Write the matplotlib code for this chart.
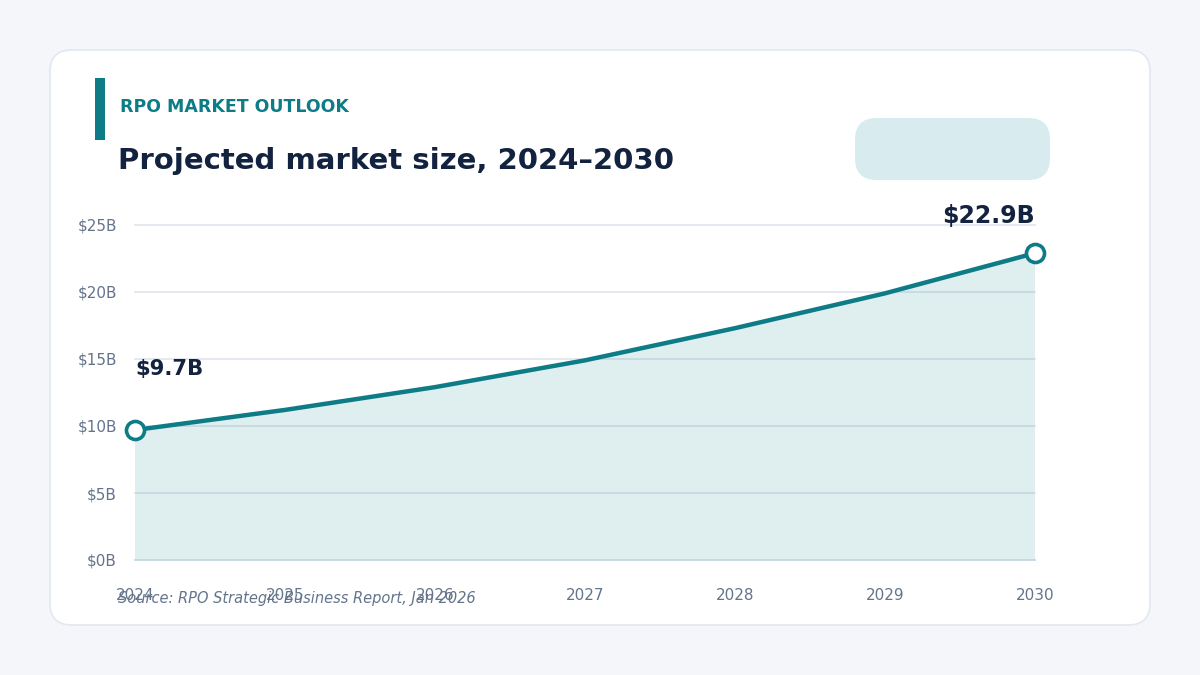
import matplotlib.pyplot as plt
from matplotlib.patches import FancyBboxPatch, Rectangle

# data
years = [2024, 2025, 2026, 2027, 2028, 2029, 2030]
market_size = [9.7, 11.2, 12.9, 14.9, 17.3, 19.9, 22.9]
y_ticks = [0, 5, 10, 15, 20, 25]
y_labels = ["$0B", "$5B", "$10B", "$15B", "$20B", "$25B"]

teal = "#0e7c86"
navy = "#13233f"
muted = "#64748b"
grid_c = "#dfe5ee"

fig = plt.figure(figsize=(12, 6.75), dpi=100)
fig.patch.set_facecolor("#f4f6f9")

W, H = 1200, 675
def fx(px):
    return px / W
def fy(py):
    return 1 - py / H

# card
card = FancyBboxPatch((fx(50), fy(625)), fx(1100), 575 / H,
                      boxstyle="round,pad=0,rounding_size=0.018",
                      transform=fig.transFigure, facecolor="white",
                      edgecolor="#e2e8f0", linewidth=1.2, mutation_aspect=16/9,
                      zorder=-2)
fig.patches.append(card)

# accent bar
fig.patches.append(Rectangle((fx(95), fy(140)), fx(10), 62 / H,
                             transform=fig.transFigure, facecolor=teal,
                             edgecolor="none", zorder=-1))

fig.text(fx(120), fy(107), "RPO MARKET OUTLOOK", color=teal, fontsize=12.5,
         fontweight="bold", va="center", ha="left")
fig.text(fx(118), fy(161), "Projected market size, 2024\u20132030", color=navy,
         fontsize=21, fontweight="bold", va="center", ha="left")

# empty pill
pill = FancyBboxPatch((fx(855), fy(180)), fx(195), 62 / H,
                      boxstyle="round,pad=0,rounding_size=0.018",
                      transform=fig.transFigure, facecolor="#d8ecef",
                      edgecolor="none", mutation_aspect=16/9, zorder=-1)
fig.patches.append(pill)

ax = fig.add_axes([fx(135), fy(560), fx(900), 335 / H])
ax.set_zorder(2)
ax.set_facecolor("none")
ax.set_xlim(years[0], years[-1])
ax.set_ylim(0, 25)
ax.set_axisbelow(True)

ax.fill_between(years, market_size, 0, facecolor=teal, alpha=0.13,
                edgecolor="none", zorder=1)
ax.plot([years[-1], years[-1]], [0, market_size[-1]], color="#e2ecf0",
        linewidth=1, zorder=1.5)
ax.plot(years, market_size, color=teal, linewidth=3.2, zorder=3,
        solid_capstyle="round")
ax.plot([years[0], years[-1]], [market_size[0], market_size[-1]], "o",
        markersize=13, markerfacecolor="white", markeredgecolor=teal,
        markeredgewidth=2.6, zorder=4, clip_on=False)

ax.set_yticks(y_ticks)
ax.set_yticklabels(y_labels)
ax.set_xticks(years)
ax.set_xticklabels([str(y) for y in years])
ax.tick_params(axis="both", length=0, labelsize=11, labelcolor=muted)
ax.tick_params(axis="y", pad=13)
ax.tick_params(axis="x", pad=20)
ax.grid(axis="y", color=grid_c, linewidth=1.2)
ax.grid(axis="x", visible=False)
for gl in ax.get_ygridlines():
    gl.set_clip_on(False)
for s in ax.spines.values():
    s.set_visible(False)
ax.axhline(0, color="#c6d9e0", linewidth=1.2, zorder=2, clip_on=False)

ax.annotate("$%.1fB" % market_size[0], (years[0], market_size[0]),
            xytext=(0, 44), textcoords="offset points", ha="left", va="center",
            fontsize=15.2, fontweight="bold", color=navy, annotation_clip=False)
ax.annotate("$%.1fB" % market_size[-1], (years[-1], market_size[-1]),
            xytext=(0, 27), textcoords="offset points", ha="right", va="center",
            fontsize=17, fontweight="bold", color=navy, annotation_clip=False)

fig.text(fx(118), fy(598), "Source: RPO Strategic Business Report, Jan 2026",
         color=muted, fontsize=10.5, style="italic", va="center", ha="left")

fig.savefig("out.png", dpi=100, facecolor=fig.get_facecolor())
